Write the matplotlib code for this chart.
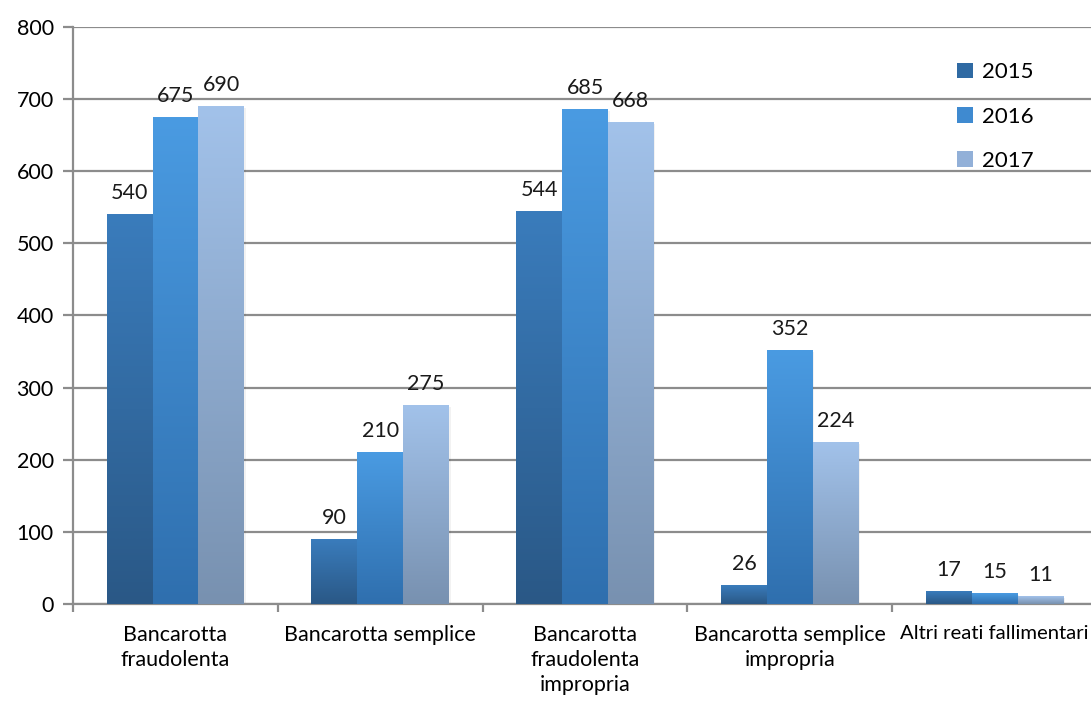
import numpy as np
import matplotlib
matplotlib.use('Agg')
import matplotlib.pyplot as plt
from matplotlib.colors import LinearSegmentedColormap
from matplotlib.patches import Patch

matplotlib.rcParams['font.family'] = ['Lato', 'DejaVu Sans']

categories = ['Bancarotta\nfraudolenta', 'Bancarotta semplice',
              'Bancarotta\nfraudolenta\nimpropria', 'Bancarotta semplice\nimpropria',
              'Altri reati fallimentari']
years = ['2015', '2016', '2017']
v2015 = [540, 90, 544, 26, 17]
v2016 = [675, 210, 685, 352, 15]
v2017 = [690, 275, 668, 224, 11]

# colori gradiente (alto, basso)
grad = {
    '2015': ('#3a7cbc', '#2a5886'),
    '2016': ('#4a9be2', '#2f6fae'),
    '2017': ('#a2c2ea', '#7891b0'),
}
legend_col = {'2015': '#2f6aa3', '2016': '#3f8ad0', '2017': '#92b0d8'}

fig = plt.figure(figsize=(10.91, 7.02), dpi=100)
ax = fig.add_axes([0.067, 0.1396, 0.9385, 0.822])

x = np.arange(len(categories))
w = 0.224
grid_c = '#8c8c8c'

for i, (yr, vals) in enumerate(zip(years, [v2015, v2016, v2017])):
    bars = ax.bar(x + (i - 1) * w, vals, w, color='none', zorder=3)
    cmap = LinearSegmentedColormap.from_list(yr, [grad[yr][1], grad[yr][0]])
    for b, v in zip(bars, vals):
        x0, x1 = b.get_x(), b.get_x() + b.get_width()
        # leggera ombra
        ax.bar(b.get_x() + b.get_width() / 2 + 0.008, v, w, bottom=-2,
               color='#000000', alpha=0.05, zorder=2.5, linewidth=0)
        ax.imshow(np.linspace(0, 1, 256).reshape(-1, 1), cmap=cmap,
                  extent=[x0, x1, 0, v], origin='lower', aspect='auto',
                  zorder=3)
        ax.text(b.get_x() + b.get_width() / 2, v + 16, str(v),
                ha='center', va='bottom', fontsize=15.5, color='#1a1a1a')

ax.set_xlim(-0.5, len(categories) - 0.5)
ax.set_ylim(0, 800)
ax.set_yticks(range(0, 801, 100))
ax.yaxis.grid(True, color=grid_c, linewidth=1.6, zorder=0)
ax.set_axisbelow(True)

ax.set_xticks(x)
labels = ax.set_xticklabels(categories, fontsize=15.5, linespacing=1.33)
labels[-1].set_fontsize(14.6)  # per stare dentro il bordo destro
ax.tick_params(axis='x', length=0, pad=15)
ax.set_xticks(np.arange(-0.5, len(categories)), minor=True)
ax.tick_params(axis='x', which='minor', length=6, width=1.6, color=grid_c)
ax.tick_params(axis='y', length=7, width=1.6, color=grid_c, labelsize=15.5, pad=7)

for s in ['top', 'right']:
    ax.spines[s].set_visible(False)
ax.spines['left'].set_color(grid_c)
ax.spines['left'].set_linewidth(1.6)
ax.spines['bottom'].set_color(grid_c)
ax.spines['bottom'].set_linewidth(1.6)

handles = [Patch(facecolor=legend_col[y], label=y) for y in years]
fig.legend(handles=handles, loc='upper left', bbox_to_anchor=(0.859, 0.94),
           frameon=False, fontsize=16, handlelength=0.7, handleheight=0.7,
           handletextpad=0.4, labelspacing=1.1)

plt.savefig('out.png', dpi=100)
